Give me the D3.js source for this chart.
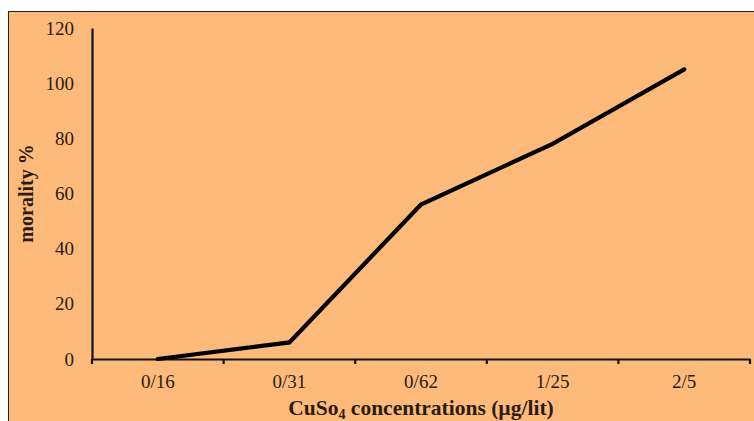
<!DOCTYPE html>
<html><head><meta charset="utf-8">
<script src="https://cdn.jsdelivr.net/npm/d3@7/dist/d3.min.js"></script>
<style>html,body{margin:0;padding:0;background:#fff;}svg{display:block;}</style>
</head><body>
<svg id="c" width="754" height="421"></svg>
<script>
const categories = ["0/16","0/31","0/62","1/25","2/5"];
const mortality = [0, 6, 56, 78, 105];
const yTicks = [0,20,40,60,80,100,120];

const svg = d3.select("#c");
const W = 754, H = 421;
const m = {left:92, right:4, top:28, bottom:62};
const bg = "#FDBA7B";
const font = "'Liberation Serif','Times New Roman',serif";

svg.append("rect").attr("x",8.5).attr("y",11.5).attr("width",W).attr("height",H)
  .attr("fill",bg).attr("stroke","#222").attr("stroke-width",1);

const x = d3.scaleBand().domain(categories).range([m.left, W - m.right]).padding(0);
const y = d3.scaleLinear().domain([0,120]).range([H - m.bottom, m.top]);

// x axis
const xAxis = svg.append("g").attr("transform",`translate(0,${y(0)})`)
  .call(d3.axisBottom(x).tickSize(0).tickSizeOuter(0).tickPadding(16));
xAxis.attr("font-family",font).attr("font-size",19);
xAxis.select(".domain").attr("stroke","#111").attr("stroke-width",2.2);
xAxis.selectAll("text").attr("fill","#2a1c12");
// boundary ticks
const edges = categories.map(c => x(c)).concat([x(categories[categories.length-1]) + x.bandwidth()]);
xAxis.selectAll("line.edge").data(edges).enter().append("line").attr("class","edge")
  .attr("x1",d=>d).attr("x2",d=>d).attr("y1",0).attr("y2",5)
  .attr("stroke","#111").attr("stroke-width",2.2);

// y axis
const yAxis = svg.append("g").attr("transform",`translate(${m.left},0)`)
  .call(d3.axisLeft(y).tickValues(yTicks).tickSize(0).tickPadding(18).tickSizeOuter(0));
yAxis.attr("font-family",font).attr("font-size",19);
yAxis.select(".domain").attr("stroke","#111").attr("stroke-width",2.2);
yAxis.selectAll("text").attr("fill","#2a1c12");

// line
const line = d3.line().x((d,i)=>x(categories[i]) + x.bandwidth()/2).y(d=>y(d));
svg.append("path").datum(mortality).attr("d",line).attr("fill","none")
  .attr("stroke","#000").attr("stroke-width",4.2).attr("stroke-linejoin","miter").attr("stroke-linecap","round");

// axis titles
const xt = svg.append("text").attr("x",(m.left + W - m.right)/2).attr("y",415)
  .attr("text-anchor","middle").attr("font-family",font).attr("font-weight","bold")
  .attr("font-size",21.5).attr("fill","#2a1c12");
xt.append("tspan").text("CuSo");
xt.append("tspan").text("4").attr("font-size",14).attr("dy",4);
xt.append("tspan").text(" concentrations (µg/lit)").attr("dy",-4);

svg.append("text").attr("transform",`translate(33,${(y(0)+y(120))/2}) rotate(-90)`)
  .attr("text-anchor","middle").attr("font-family",font).attr("font-weight","bold")
  .attr("font-size",20).attr("fill","#2a1c12").text("morality %");
</script>
</body></html>
